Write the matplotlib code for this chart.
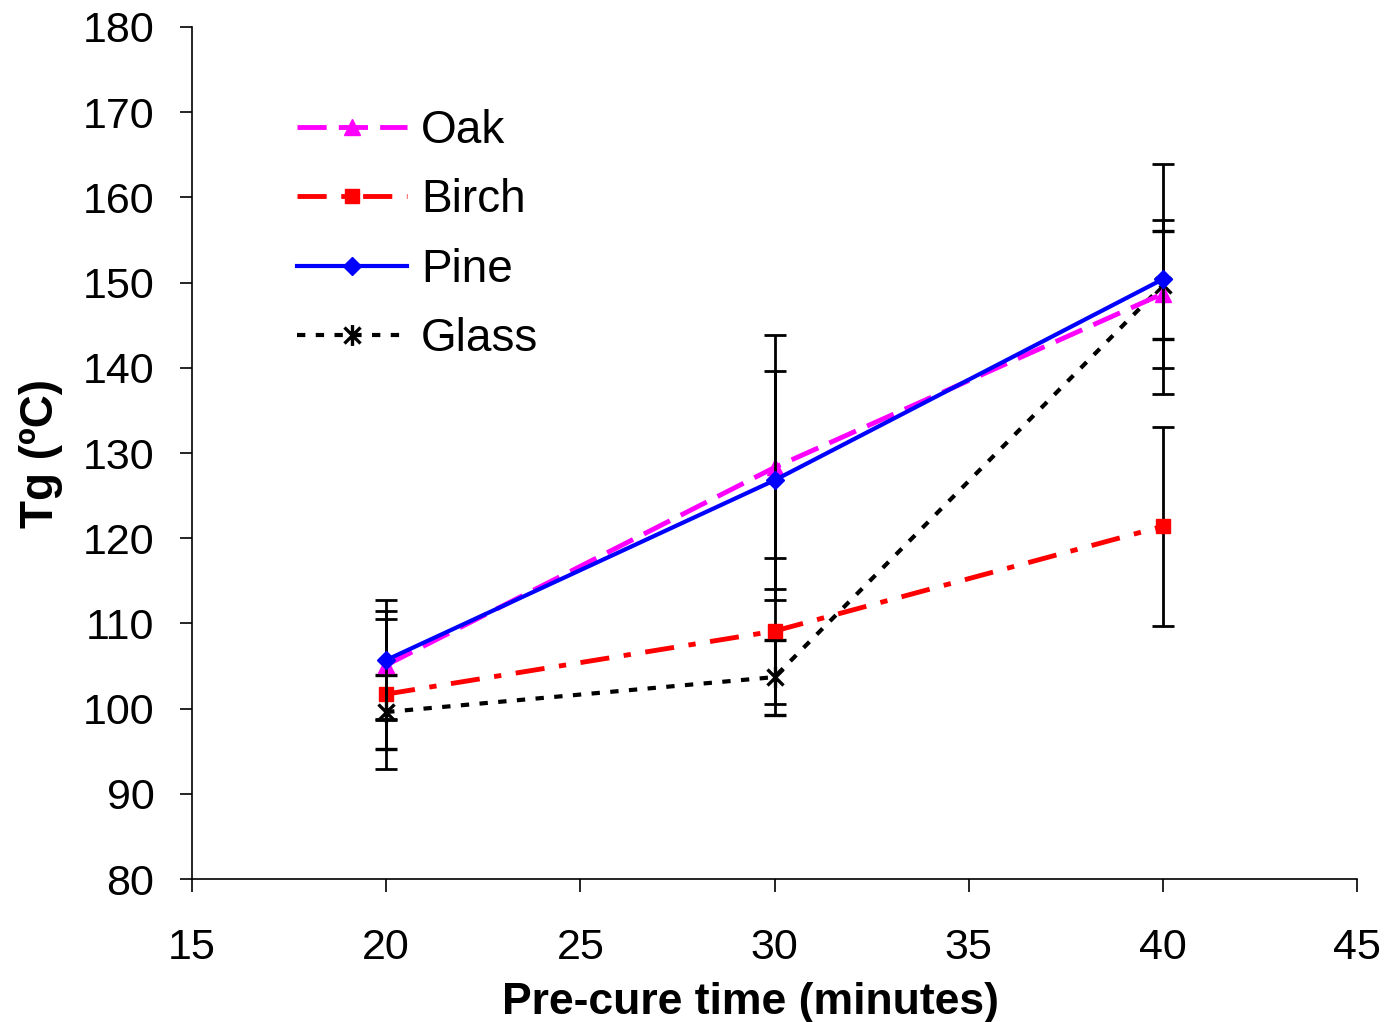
import matplotlib.pyplot as plt
from matplotlib.path import Path

plt.rcParams['font.family'] = ['Liberation Sans', 'DejaVu Sans']

times = [20, 30, 40]

oak = [105.1, 128.3, 148.7]
oak_err = [6.3, 15.5, 8.7]
birch = [101.7, 109.1, 121.4]
birch_err = [8.8, 8.6, 11.7]
pine = [105.7, 126.8, 150.4]
pine_err = [7.0, 12.8, 13.5]
glass = [99.6, 103.7, 149.7]
glass_err = [4.3, 4.4, 6.3]

# asterisk marker like the excel one (x plus a vertical bar)
star = Path([(-1, -1), (1, 1), (-1, 1), (1, -1), (0, -1.3), (0, 1.3)],
            [Path.MOVETO, Path.LINETO] * 3)

fig = plt.figure(figsize=(13.88, 10.22), dpi=100)
ax = fig.add_axes([0.1383, 0.1399, 0.8394, 0.8337])

ebkw = dict(ecolor='black', elinewidth=2, capsize=8, capthick=2)

ax.errorbar(times, glass, yerr=glass_err, color='black', ls=(0, (2, 2.5)), lw=3,
            marker=star, ms=15, mew=2.4, mfc='none', label='Glass', zorder=3, **ebkw)
ax.errorbar(times, birch, yerr=birch_err, color='#ff0000', ls=(0, (6, 3, 1.5, 3)), lw=3.5,
            marker='s', ms=10, label='Birch', zorder=4, **ebkw)
ax.errorbar(times, oak, yerr=oak_err, color='#ff00ff', ls=(0, (6, 2.5)), lw=3.5,
            marker='^', ms=12, label='Oak', zorder=5, **ebkw)
ax.errorbar(times, pine, yerr=pine_err, color='#0000ff', ls='-', lw=3,
            marker='D', ms=9, label='Pine', zorder=6, **ebkw)

ax.set_xlim(15, 45)
ax.set_ylim(80, 180)
ax.set_xticks(range(15, 50, 5))
ax.set_yticks(range(80, 190, 10))
ax.tick_params(labelsize=31, width=1.2, length=9, direction='out')
ax.tick_params(axis='y', pad=18)
ax.tick_params(axis='x', pad=26)
ax.spines['top'].set_visible(False)
ax.spines['right'].set_visible(False)
ax.spines['left'].set_linewidth(1.2)
ax.spines['bottom'].set_linewidth(1.2)

ax.set_xlabel('Pre-cure time (minutes)', fontsize=32, fontweight='bold')
ax.xaxis.set_label_coords(0.479, -0.121, transform=ax.transAxes)
ax.xaxis.label.set_va('top')
ax.set_ylabel('Tg (ºC)', fontsize=33, fontweight='bold', labelpad=14)

h, l = ax.get_legend_handles_labels()
order = [l.index(n) for n in ['Oak', 'Birch', 'Pine', 'Glass']]
ax.legend([h[i][0] for i in order], [l[i] for i in order], loc='upper left',
          bbox_to_anchor=(0.055, 0.952), frameon=False, fontsize=33,
          handlelength=2.4, labelspacing=0.55, handletextpad=0.3)

fig.savefig('out.png', dpi=100)
